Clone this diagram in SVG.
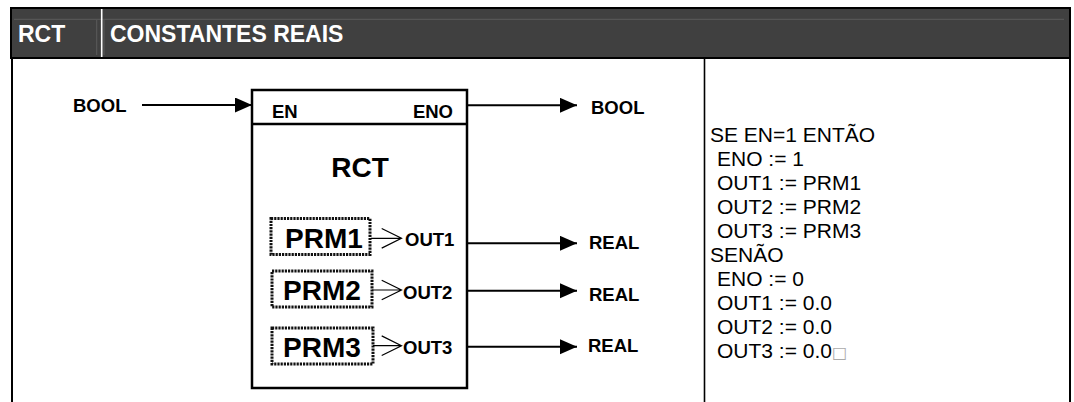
<svg xmlns="http://www.w3.org/2000/svg" width="1074" height="402" viewBox="0 0 1074 402">
  <style>
    .b { font-family: "Liberation Sans", Arial, sans-serif; font-weight: bold; fill: #000; }
    .lbl { font-size: 18.5px; }
    .big { font-size: 28px; }
    .hdr { font-family: "Liberation Sans", Arial, sans-serif; font-weight: bold; font-size: 23px; fill: #fff; }
    .code { font-family: "Liberation Sans", Arial, sans-serif; font-size: 21px; fill: #000; }
    .wire { stroke: #000; stroke-width: 2; fill: none; }
    .thin { stroke: #000; stroke-width: 1.2; fill: none; }
    .dot { fill: none; stroke: #111; stroke-width: 3; stroke-dasharray: 2.2 1; }
    .border { stroke: #000; stroke-width: 2; fill: none; }
  </style>
  <defs>
    <marker id="ah" markerUnits="userSpaceOnUse" markerWidth="18" markerHeight="16" refX="17" refY="7.5" orient="auto">
      <path d="M0,0 L17,7.5 L0,15 z" fill="#000"/>
    </marker>
  </defs>

  <rect width="1074" height="402" fill="#fff"/>

  <g id="header">
    <rect x="11" y="8" width="1059" height="50" fill="#404040" stroke="#000" stroke-width="2"/>
    <line x1="14" y1="19.3" x2="1064" y2="19.3" stroke="#5a5a5a" stroke-width="1"/>
    <line x1="96.7" y1="20" x2="96.7" y2="55" stroke="#5a5a5a" stroke-width="1"/>
    <line x1="104" y1="20" x2="104" y2="55" stroke="#5a5a5a" stroke-width="1"/>
    <line x1="101.7" y1="9" x2="101.7" y2="57" stroke="#fff" stroke-width="1.6"/>
    <text class="hdr" x="18" y="41.5">RCT</text>
    <text class="hdr" x="110" y="41.5">CONSTANTES REAIS</text>
  </g>

  <g id="table">
    <line class="border" x1="12" y1="58" x2="12" y2="402"/>
    <line class="border" x1="1070" y1="58" x2="1070" y2="402"/>
    <line x1="704.5" y1="58" x2="704.5" y2="402" stroke="#000" stroke-width="1.6"/>
  </g>

  <g id="block-rct">
    <rect x="252" y="90" width="215" height="298" fill="#fff" stroke="#000" stroke-width="2.5"/>
    <line x1="252" y1="124" x2="467" y2="124" stroke="#000" stroke-width="2.5"/>
    <text class="b lbl" x="272" y="118">EN</text>
    <text class="b lbl" x="453" y="118" text-anchor="end">ENO</text>
    <text class="b big" x="360" y="177" text-anchor="middle">RCT</text>
    <text class="b lbl" x="405" y="246">OUT1</text>
    <text class="b lbl" x="403" y="299">OUT2</text>
    <text class="b lbl" x="403" y="354">OUT3</text>
  </g>

  <g id="prm1">
    <rect class="dot" x="271" y="218.5" width="99" height="36"/>
    <text class="b big" x="285" y="248">PRM1</text>
  </g>
  <g id="prm2">
    <rect class="dot" x="272" y="271" width="100" height="36"/>
    <text class="b big" x="283" y="300">PRM2</text>
  </g>
  <g id="prm3">
    <rect class="dot" x="272" y="328" width="101" height="36"/>
    <text class="b big" x="283" y="356.5">PRM3</text>
  </g>

  <g id="connectors">
    <line class="wire" x1="142" y1="105" x2="252" y2="105" marker-end="url(#ah)"/>
    <line class="wire" x1="467" y1="105.3" x2="577" y2="105.3" marker-end="url(#ah)"/>
    <line class="wire" x1="467" y1="243.3" x2="577" y2="243.3" marker-end="url(#ah)"/>
    <line class="wire" x1="467" y1="290.7" x2="577" y2="290.7" marker-end="url(#ah)"/>
    <line class="wire" x1="467" y1="346.7" x2="577" y2="346.7" marker-end="url(#ah)"/>
    <path class="thin" d="M371,238.3 H401.5 M381.7,228.5 L401.5,238.3 L381.7,248.1"/>
    <path class="thin" d="M372,290 H401.5 M381.7,280.2 L401.5,290 L381.7,299.8"/>
    <path class="thin" d="M373,345.7 H401.5 M381.7,335.9 L401.5,345.7 L381.7,355.5"/>
  </g>

  <g id="io-labels">
    <text class="b lbl" x="73" y="112">BOOL</text>
    <text class="b lbl" x="591" y="114">BOOL</text>
    <text class="b lbl" x="589" y="248.5">REAL</text>
    <text class="b lbl" x="589" y="301">REAL</text>
    <text class="b lbl" x="588" y="352">REAL</text>
  </g>

  <g id="code">
    <text class="code" x="710" y="142">SE EN=1 ENTÃO</text>
    <text class="code" x="717" y="166">ENO := 1</text>
    <text class="code" x="717" y="190">OUT1 := PRM1</text>
    <text class="code" x="717" y="214">OUT2 := PRM2</text>
    <text class="code" x="717" y="238">OUT3 := PRM3</text>
    <text class="code" x="710" y="262">SENÃO</text>
    <text class="code" x="717" y="286">ENO := 0</text>
    <text class="code" x="717" y="310">OUT1 := 0.0</text>
    <text class="code" x="717" y="334">OUT2 := 0.0</text>
    <text class="code" x="717" y="358">OUT3 := 0.0<tspan fill="#aaa" font-family="DejaVu Sans, sans-serif" font-size="16">□</tspan></text>
  </g>
</svg>
